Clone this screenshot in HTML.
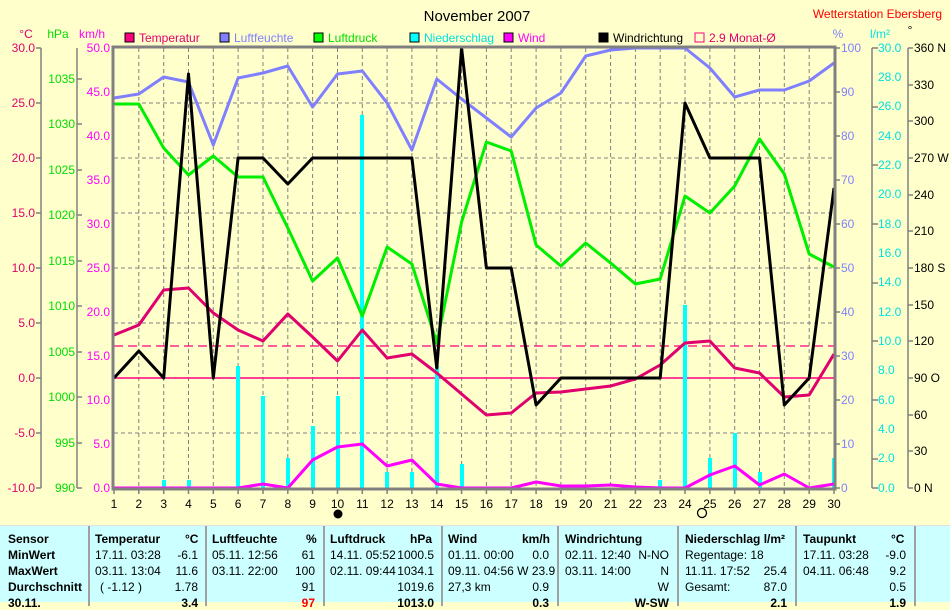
<!DOCTYPE html>
<html><head><meta charset="utf-8"><style>
body{margin:0;width:950px;height:601px;overflow:hidden;background:#ffffcc;font-family:"Liberation Sans",sans-serif}
svg{position:absolute;left:0;top:0}
.tb{position:absolute;left:0;top:525px;width:950px;height:76px;background:#ccffff;border-top:1px solid #e0e0e0}
.tb div{position:absolute;font-size:12px;white-space:nowrap;color:#000}
.b{font-weight:bold}
.sep{position:absolute;top:0;width:2px;height:80px;background:#a0a0a0}
</style></head><body>
<svg width="950" height="525" font-family="Liberation Sans, sans-serif" font-size="12">
<text x="477" y="21" font-size="15" text-anchor="middle">November 2007</text>
<text x="942" y="18" font-size="12" fill="#ff0000" text-anchor="end">Wetterstation Ebersberg</text>
<g font-size="12">
<text x="26" y="38" fill="#e0006e" text-anchor="middle">°C</text>
<text x="58" y="38" fill="#00dd00" text-anchor="middle">hPa</text>
<text x="92" y="38" fill="#ff00ff" text-anchor="middle">km/h</text>
<text x="838" y="38" fill="#8080ff" text-anchor="middle">%</text>
<text x="880" y="38" fill="#00e0e0" text-anchor="middle">l/m²</text>
<text x="910" y="34" fill="#000" text-anchor="middle">°</text>
</g>
<g font-size="12">
<rect x="125" y="33" width="9" height="9" fill="#ff0080" stroke="#000"/><text x="139" y="42" fill="#e0006e">Temperatur</text>
<rect x="220" y="33" width="9" height="9" fill="#8080ff" stroke="#000"/><text x="234" y="42" fill="#8080ff">Luftfeuchte</text>
<rect x="314" y="33" width="9" height="9" fill="#00ff00" stroke="#000"/><text x="328" y="42" fill="#00dd00">Luftdruck</text>
<rect x="410" y="33" width="9" height="9" fill="#00ffff" stroke="#000"/><text x="424" y="42" fill="#00e0e0">Niederschlag</text>
<rect x="504" y="33" width="9" height="9" fill="#ff00ff" stroke="#000"/><text x="518" y="42" fill="#ff00ff">Wind</text>
<rect x="599" y="33" width="9" height="9" fill="#000" stroke="#000"/><text x="613" y="42" fill="#000">Windrichtung</text>
<rect x="695" y="33" width="9" height="9" fill="none" stroke="#ff0080"/><text x="709" y="42" fill="#e0006e">2.9 Monat-Ø</text>
</g>
<g stroke="#808080" stroke-dasharray="4,3" stroke-width="1">
<line x1="114" y1="103" x2="834" y2="103"/><line x1="114" y1="158" x2="834" y2="158"/><line x1="114" y1="213" x2="834" y2="213"/><line x1="114" y1="268" x2="834" y2="268"/><line x1="114" y1="323" x2="834" y2="323"/><line x1="114" y1="378" x2="834" y2="378"/><line x1="114" y1="433" x2="834" y2="433"/>
<path d="M138.8 48V488M163.7 48V488M188.5 48V488M213.3 48V488M238.1 48V488M263 48V488M287.8 48V488M312.6 48V488M337.5 48V488M362.3 48V488M387.1 48V488M411.9 48V488M436.8 48V488M461.6 48V488M486.4 48V488M511.2 48V488M536.1 48V488M560.9 48V488M585.7 48V488M610.6 48V488M635.4 48V488M660.2 48V488M685 48V488M709.9 48V488M734.7 48V488M759.5 48V488M784.3 48V488M809.2 48V488"/>
</g>
<g stroke="#808080" stroke-width="1.5" fill="none">
<line x1="41" y1="48" x2="41" y2="488"/>
<path d="M36 48H41M36 103H41M36 158H41M36 213H41M36 268H41M36 323H41M36 378H41M36 433H41M36 488H41"/>
<line x1="77" y1="48" x2="77" y2="488"/>
<path d="M77 79H82M77 124H82M77 170H82M77 215H82M77 261H82M77 306H82M77 352H82M77 397H82M77 443H82M77 488H82"/>
<line x1="872" y1="48" x2="872" y2="488"/>
<path d="M872 48H878M872 107H878M872 165H878M872 224H878M872 283H878M872 341H878M872 400H878M872 459H878M872 488H878"/>
<line x1="908" y1="48" x2="908" y2="488"/>
<path d="M908 48H913M908 85H913M908 121H913M908 158H913M908 195H913M908 231H913M908 268H913M908 305H913M908 341H913M908 378H913M908 415H913M908 451H913M908 488H913"/>
<path d="M834 48H840M834 92H840M834 136H840M834 180H840M834 224H840M834 268H840M834 312H840M834 356H840M834 400H840M834 444H840M834 488H840"/>
<path d="M114 488V494M138.8 488V494M163.7 488V494M188.5 488V494M213.3 488V494M238.1 488V494M263 488V494M287.8 488V494M312.6 488V494M337.5 488V494M362.3 488V494M387.1 488V494M411.9 488V494M436.8 488V494M461.6 488V494M486.4 488V494M511.2 488V494M536.1 488V494M560.9 488V494M585.7 488V494M610.6 488V494M635.4 488V494M660.2 488V494M685 488V494M709.9 488V494M734.7 488V494M759.5 488V494M784.3 488V494M809.2 488V494M834 488V494"/>
</g>
<g fill="#e0006e" text-anchor="end">
<text x="35" y="52">30.0</text><text x="35" y="107">25.0</text><text x="35" y="162">20.0</text><text x="35" y="217">15.0</text><text x="35" y="272">10.0</text><text x="35" y="327">5.0</text><text x="35" y="382">0.0</text><text x="35" y="437">-5.0</text><text x="35" y="492">-10.0</text>
</g>
<g fill="#00dd00" text-anchor="end">
<text x="75" y="83">1035</text><text x="75" y="128">1030</text><text x="75" y="174">1025</text><text x="75" y="219">1020</text><text x="75" y="265">1015</text><text x="75" y="310">1010</text><text x="75" y="356">1005</text><text x="75" y="401">1000</text><text x="75" y="447">995</text><text x="75" y="492">990</text>
</g>
<g fill="#ff00ff" text-anchor="end">
<text x="110" y="52">50.0</text><text x="110" y="96">45.0</text><text x="110" y="140">40.0</text><text x="110" y="184">35.0</text><text x="110" y="228">30.0</text><text x="110" y="272">25.0</text><text x="110" y="316">20.0</text><text x="110" y="360">15.0</text><text x="110" y="404">10.0</text><text x="110" y="448">5.0</text><text x="110" y="492">0.0</text>
</g>
<g fill="#8080ff">
<text x="841" y="52">100</text><text x="841" y="96">90</text><text x="841" y="140">80</text><text x="841" y="184">70</text><text x="841" y="228">60</text><text x="841" y="272">50</text><text x="841" y="316">40</text><text x="841" y="360">30</text><text x="841" y="404">20</text><text x="841" y="448">10</text><text x="841" y="492">0</text>
</g>
<g fill="#00e0e0">
<text x="878" y="52">30.0</text><text x="878" y="81">28.0</text><text x="878" y="110">26.0</text><text x="878" y="140">24.0</text><text x="878" y="169">22.0</text><text x="878" y="198">20.0</text><text x="878" y="228">18.0</text><text x="878" y="257">16.0</text><text x="878" y="286">14.0</text><text x="878" y="316">12.0</text><text x="878" y="345">10.0</text><text x="878" y="374">8.0</text><text x="878" y="404">6.0</text><text x="878" y="433">4.0</text><text x="878" y="462">2.0</text><text x="878" y="492">0.0</text>
</g>
<g fill="#000">
<text x="914" y="52">360 N</text><text x="914" y="89">330</text><text x="914" y="125">300</text><text x="914" y="162">270 W</text><text x="914" y="199">240</text><text x="914" y="235">210</text><text x="914" y="272">180 S</text><text x="914" y="309">150</text><text x="914" y="345">120</text><text x="914" y="382">90 O</text><text x="914" y="419">60</text><text x="914" y="455">30</text><text x="914" y="492">0 N</text>
</g>
<g text-anchor="middle">
<text x="114" y="508">1</text><text x="138.8" y="508">2</text><text x="163.7" y="508">3</text><text x="188.5" y="508">4</text><text x="213.3" y="508">5</text><text x="238.1" y="508">6</text><text x="263" y="508">7</text><text x="287.8" y="508">8</text><text x="312.6" y="508">9</text><text x="337.5" y="508">10</text><text x="362.3" y="508">11</text><text x="387.1" y="508">12</text><text x="411.9" y="508">13</text><text x="436.8" y="508">14</text><text x="461.6" y="508">15</text><text x="486.4" y="508">16</text><text x="511.2" y="508">17</text><text x="536.1" y="508">18</text><text x="560.9" y="508">19</text><text x="585.7" y="508">20</text><text x="610.6" y="508">21</text><text x="635.4" y="508">22</text><text x="660.2" y="508">23</text><text x="685" y="508">24</text><text x="709.9" y="508">25</text><text x="734.7" y="508">26</text><text x="759.5" y="508">27</text><text x="784.3" y="508">28</text><text x="809.2" y="508">29</text><text x="834" y="508">30</text>
</g>
<circle cx="338" cy="514" r="4.5" fill="#000"/>
<circle cx="702" cy="513" r="4.5" fill="none" stroke="#000" stroke-width="1.3"/>
<line x1="114" y1="378" x2="834" y2="378" stroke="#ff0080" stroke-width="1.5"/>
<line x1="114" y1="346" x2="834" y2="346" stroke="#ff0080" stroke-width="1.3" stroke-dasharray="9,5"/>
<g fill="#00ffff">
<rect x="162" y="480" width="4" height="8"/><rect x="187" y="480" width="4" height="8"/><rect x="236" y="366" width="4" height="122"/><rect x="261" y="396" width="4" height="92"/><rect x="286" y="458" width="4" height="30"/><rect x="311" y="426" width="4" height="62"/><rect x="336" y="396" width="4" height="92"/><rect x="360" y="115" width="4" height="373"/><rect x="385" y="472" width="4" height="16"/><rect x="410" y="472" width="4" height="16"/><rect x="435" y="366" width="4" height="122"/><rect x="460" y="464" width="4" height="24"/><rect x="658" y="480" width="4" height="8"/><rect x="683" y="305" width="4" height="183"/><rect x="708" y="458" width="4" height="30"/><rect x="733" y="433" width="4" height="55"/><rect x="758" y="472" width="4" height="16"/><rect x="832" y="458" width="4" height="30"/>
</g>
<g fill="none" stroke-width="3" stroke-linejoin="round">
<polyline stroke="#ff00ff" points="114,488 138.8,488 163.7,488 188.5,488 213.3,488 238.1,488 263,484 287.8,488 312.6,460 337.5,447 362.3,444 387.1,466 411.9,460 436.8,484 461.6,488 486.4,488 511.2,488 536.1,482 560.9,486 585.7,486 610.6,485 635.4,487 660.2,488 685,488 709.9,475 734.7,466 759.5,485 784.3,474 809.2,488 834,484"/>
<polyline stroke="#8080ff" points="114,98 138.8,94 163.7,77 188.5,82 213.3,145 238.1,78 263,73 287.8,66 312.6,107 337.5,74 362.3,71 387.1,103 411.9,150 436.8,79 461.6,99 486.4,118 511.2,137 536.1,108 560.9,93 585.7,56 610.6,50 635.4,48 660.2,48 685,48 709.9,68 734.7,97 759.5,90 784.3,90 809.2,81 834,63"/>
<polyline stroke="#00ee00" points="114,104 138.8,104 163.7,148 188.5,175 213.3,156 238.1,177 263,177 287.8,228 312.6,281 337.5,258 362.3,316 387.1,247 411.9,264 436.8,343 461.6,222 486.4,142 511.2,151 536.1,245 560.9,266 585.7,243 610.6,263 635.4,284 660.2,279 685,196 709.9,213 734.7,186 759.5,139 784.3,174 809.2,254 834,267"/>
<polyline stroke="#e0006e" points="114,335 138.8,325 163.7,290 188.5,288 213.3,313 238.1,330 263,341 287.8,314 312.6,337 337.5,361 362.3,330 387.1,358 411.9,354 436.8,373 461.6,394 486.4,415 511.2,413 536.1,393 560.9,392 585.7,389 610.6,386 635.4,379 660.2,365 685,343 709.9,341 734.7,368 759.5,373 784.3,397 809.2,395 834,354"/>
<polyline stroke="#000" points="114,378 138.8,351 163.7,378 188.5,74 213.3,378 238.1,158 263,158 287.8,184 312.6,158 337.5,158 362.3,158 387.1,158 411.9,158 436.8,368 461.6,48 486.4,268 511.2,268 536.1,405 560.9,378 585.7,378 610.6,378 635.4,378 660.2,378 685,103 709.9,158 734.7,158 759.5,158 784.3,405 809.2,378 834,188"/>
</g>
<rect x="113" y="47" width="722" height="442" fill="none" stroke="#808080" stroke-width="3"/>
</svg>
<div class="tb">
<div class="sep" style="left:88px"></div><div class="sep" style="left:205px"></div><div class="sep" style="left:323px"></div><div class="sep" style="left:441px"></div><div class="sep" style="left:557px"></div><div class="sep" style="left:677px"></div><div class="sep" style="left:795px"></div><div class="sep" style="left:914px"></div>
<div class="b" style="left:8px;top:6px">Sensor</div><div class="b" style="left:8px;top:22px">MinWert</div><div class="b" style="left:8px;top:38px">MaxWert</div><div class="b" style="left:8px;top:54px">Durchschnitt</div><div class="b" style="left:8px;top:70px">30.11.</div>
<div class="b" style="left:95px;top:6px">Temperatur</div><div class="b" style="left:185px;top:6px">°C</div>
<div style="left:95px;top:22px">17.11.  03:28</div><div style="right:752px;top:22px">-6.1</div>
<div style="left:95px;top:38px">03.11.  13:04</div><div style="right:752px;top:38px">11.6</div>
<div style="left:100px;top:54px">( -1.12 )</div><div style="right:752px;top:54px">1.78</div>
<div class="b" style="right:752px;top:70px">3.4</div>
<div class="b" style="left:212px;top:6px">Luftfeuchte</div><div class="b" style="left:306px;top:6px">%</div>
<div style="left:212px;top:22px">05.11.  12:56</div><div style="right:635px;top:22px">61</div>
<div style="left:212px;top:38px">03.11.  22:00</div><div style="right:635px;top:38px">100</div>
<div style="right:635px;top:54px">91</div><div class="b" style="right:635px;top:70px;color:red">97</div>
<div class="b" style="left:330px;top:6px">Luftdruck</div><div class="b" style="left:410px;top:6px">hPa</div>
<div style="left:330px;top:22px">14.11. 05:52</div><div style="right:516px;top:22px">1000.5</div>
<div style="left:330px;top:38px">02.11. 09:44</div><div style="right:516px;top:38px">1034.1</div>
<div style="right:516px;top:54px">1019.6</div><div class="b" style="right:516px;top:70px">1013.0</div>
<div class="b" style="left:448px;top:6px">Wind</div><div class="b" style="left:522px;top:6px">km/h</div>
<div style="left:448px;top:22px">01.11.  00:00</div><div style="right:401px;top:22px">0.0</div>
<div style="left:448px;top:38px">09.11.  04:56  W 23.9</div>
<div style="left:448px;top:54px">27,3 km</div><div style="right:401px;top:54px">0.9</div>
<div class="b" style="right:401px;top:70px">0.3</div>
<div class="b" style="left:565px;top:6px">Windrichtung</div>
<div style="left:565px;top:22px">02.11.  12:40</div><div style="right:281px;top:22px">N-NO</div>
<div style="left:565px;top:38px">03.11.  14:00</div><div style="right:281px;top:38px">N</div>
<div style="right:281px;top:54px">W</div><div class="b" style="right:281px;top:70px">W-SW</div>
<div class="b" style="left:685px;top:6px">Niederschlag  l/m²</div>
<div style="left:685px;top:22px">Regentage: 18</div>
<div style="left:685px;top:38px">11.11.  17:52</div><div style="right:163px;top:38px">25.4</div>
<div style="left:685px;top:54px">Gesamt:</div><div style="right:163px;top:54px">87.0</div>
<div class="b" style="right:163px;top:70px">2.1</div>
<div class="b" style="left:803px;top:6px">Taupunkt</div><div class="b" style="left:891px;top:6px">°C</div>
<div style="left:803px;top:22px">17.11.  03:28</div><div style="right:44px;top:22px">-9.0</div>
<div style="left:803px;top:38px">04.11.  06:48</div><div style="right:44px;top:38px">9.2</div>
<div style="right:44px;top:54px">0.5</div><div class="b" style="right:44px;top:70px">1.9</div>
</div>
</body></html>
